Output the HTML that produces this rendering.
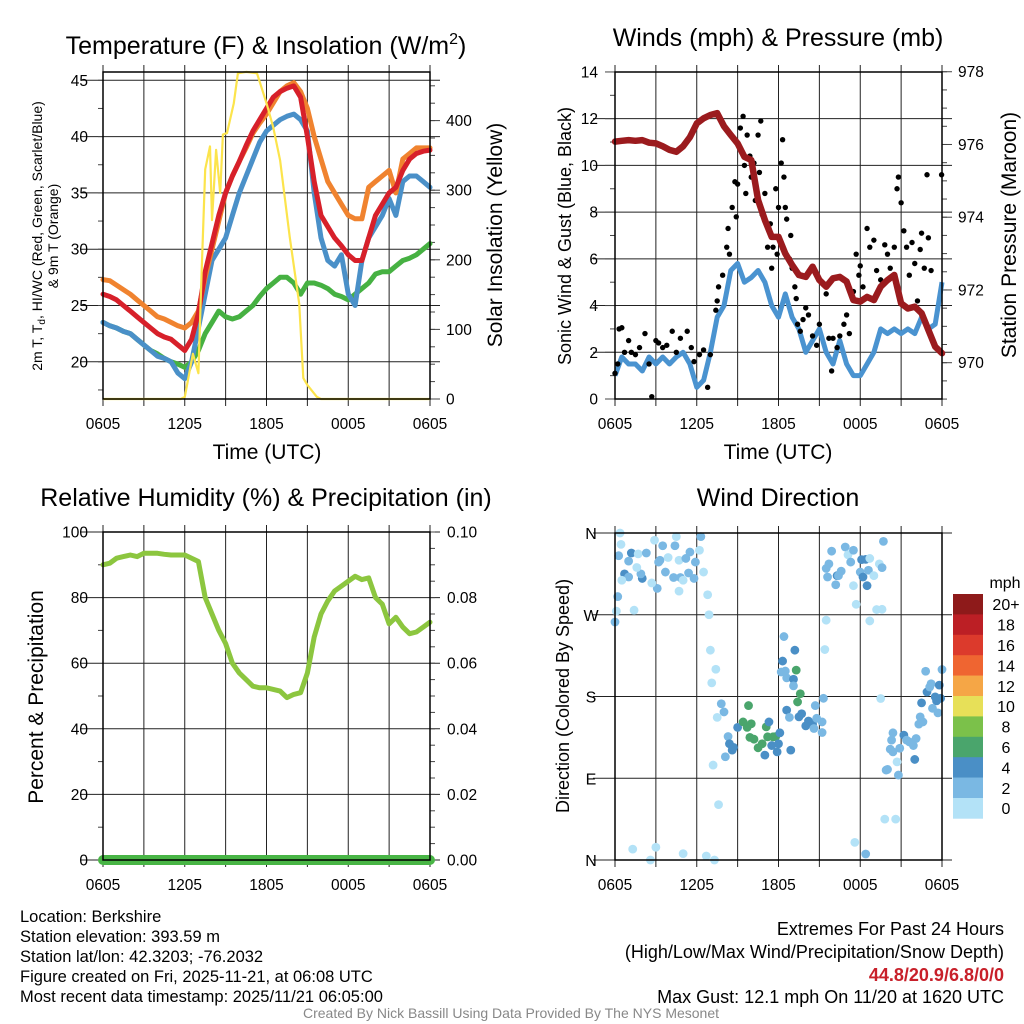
<!DOCTYPE html>
<html><head><meta charset="utf-8"><style>
html,body{margin:0;padding:0;background:#fff;}
svg{display:block;font-family:"Liberation Sans",sans-serif;}
</style></head><body>
<svg id="chart" width="1024" height="1024" viewBox="0 0 1024 1024" xmlns="http://www.w3.org/2000/svg">
<rect width="1024" height="1024" fill="#fff"/>
<g id="layer"></g>
<text x="266" y="54" font-size="25" text-anchor="middle">Temperature (F) &amp; Insolation (W/m<tspan font-size="16" dy="-10">2</tspan><tspan dy="10">)</tspan></text>
<text x="778" y="46" font-size="25" text-anchor="middle">Winds (mph) &amp; Pressure (mb)</text>
<text x="266" y="506" font-size="25" text-anchor="middle">Relative Humidity (%) &amp; Precipitation (in)</text>
<text x="778" y="506" font-size="25" text-anchor="middle">Wind Direction</text>
<text x="267" y="459" font-size="21" text-anchor="middle">Time (UTC)</text>
<text x="778" y="459" font-size="21" text-anchor="middle">Time (UTC)</text>
<text transform="translate(42,236) rotate(-90)" font-size="14" text-anchor="middle">2m T, T<tspan font-size="10" dy="3">d</tspan><tspan dy="-3">, HI/WC (Red, Green, Scarlet/Blue)</tspan></text>
<text transform="translate(58,236) rotate(-90)" font-size="14" text-anchor="middle">&amp; 9m T (Orange)</text>
<text transform="translate(502,235) rotate(-90)" font-size="21" text-anchor="middle">Solar Insolation (Yellow)</text>
<text transform="translate(571,236) rotate(-90)" font-size="18" text-anchor="middle">Sonic Wind &amp; Gust (Blue, Black)</text>
<text transform="translate(1016,235) rotate(-90)" font-size="21" text-anchor="middle">Station Pressure (Maroon)</text>
<text transform="translate(43,697) rotate(-90)" font-size="21" text-anchor="middle">Percent &amp; Precipitation</text>
<text transform="translate(569,696) rotate(-90)" font-size="18" text-anchor="middle">Direction (Colored By Speed)</text>
<g font-size="16.5">
<text x="20" y="922">Location: Berkshire</text>
<text x="20" y="942">Station elevation: 393.59 m</text>
<text x="20" y="962">Station lat/lon: 42.3203; -76.2032</text>
<text x="20" y="982">Figure created on Fri, 2025-11-21, at 06:08 UTC</text>
<text x="20" y="1002">Most recent data timestamp: 2025/11/21 06:05:00</text>
</g>
<g font-size="18" text-anchor="end">
<text x="1004" y="935">Extremes For Past 24 Hours</text>
<text x="1004" y="958">(High/Low/Max Wind/Precipitation/Snow Depth)</text>
<text x="1004" y="981" fill="#c8202a" font-weight="bold">44.8/20.9/6.8/0/0</text>
<text x="1004" y="1003">Max Gust: 12.1 mph On 11/20 at 1620 UTC</text>
</g>
<text x="511" y="1018" font-size="14" fill="#888" text-anchor="middle">Created By Nick Bassill Using Data Provided By The NYS Mesonet</text>
</svg>
<script>
// ---- data ----
const hours = [0,0.5,1,1.5,2,2.5,3,3.5,4,4.5,5,5.5,6,6.5,7,7.5,8,8.5,9,9.5,10,10.5,11,11.5,12,12.5,13,13.5,14,14.5,15,15.5,16,16.5,17,17.5,18,18.5,19,19.5,20,20.5,21,21.5,22,22.5,23,23.5,24];
const xTickLabels = ["0605","1205","1805","0005","0605"];
const tempRed = [26,25.8,25.5,25,24.5,24,23.5,23,22.5,22.2,22,21.5,21,22,24.3,28,30.5,33,35,36.5,37.8,39.2,40.5,41.5,42.5,43.5,44,44.3,44.5,43.5,40,36,33,32,31,30.3,29.5,29,29,31,33,34,35,35.5,37,38,38.5,38.7,38.8];
const tempOrange = [27.3,27.2,26.8,26.4,26,25.5,25,24.5,24,23.8,23.5,23.2,23,23.5,24.5,27.5,30,32.5,35,36.5,37.8,39,40.3,41.2,42,43,44,44.5,44.8,44,42.5,40,38,36,35,34,33,32.7,32.7,35.5,36,36.5,37,35,38,38.5,39,39,39];
const tempBlue = [23.5,23.2,23,22.7,22.5,22,21.5,21,20.5,20.3,20,19,18.5,20,23,26,29,30,31,33,35,36.5,38,39.5,40.5,41,41.5,41.8,42,41.5,40.5,35,31,29,28.5,29.5,26,25,29,31,32,33,34.5,33,36,36.5,36.5,36,35.5];
const dewGreen = [23.5,23.2,23,22.7,22.5,22,21.5,21,20.7,20.3,20,19.8,19.5,20,21,22.5,23.5,24.5,24,23.8,24,24.5,25,25.8,26.5,27,27.5,27.5,27,26,27,27,26.8,26.5,26,25.8,25.5,26,26.5,27,27.8,28,28,28.5,29,29.2,29.5,30,30.5];
const solarHours = [0,5.7,6,6.6,7,7.2,7.5,7.85,8,8.3,8.6,8.8,9.1,9.6,9.9,10.5,11.3,12,12.5,13,13.7,14.4,14.7,15,15.7,16,24];
const solarValues = [0,0,3,65,37,160,330,363,257,358,296,380,382,425,468,470,468,425,390,343,233,137,30,20,3,0,0];
const windSpeed = [1,1.8,1.5,1.5,1.2,1.8,1.5,1.8,1.5,1.8,2,1.5,0.5,0.8,2,3.5,4,5.5,5.8,5,5.2,5.5,5,4,3.5,4.5,3.5,3,2,2.5,3,2,1.5,2.5,1.5,1,1,1.5,2,3,2.8,3,2.8,3,2.8,3.5,3,3.2,5];
const pressure = [976.08,976.1,976.12,976.1,976.12,976.05,976.03,975.95,975.85,975.8,975.95,976.2,976.58,976.72,976.81,976.86,976.5,976.26,976.03,975.66,975.57,974.47,973.92,973.46,973.46,973.0,972.69,972.41,972.36,972.64,972.27,972.09,972.32,972.36,972.23,971.72,971.68,971.81,971.72,972.09,972.27,972.41,971.63,971.49,971.54,971.36,970.9,970.44,970.26];
const gustHours = [0,0.2,0.3,0.5,0.7,1,1.2,1.5,1.8,2.2,2.5,2.7,3,3.2,3.5,3.8,4.2,4.5,4.8,5.3,5.6,5.8,6.2,6.5,6.8,7,7.4,7.5,7.6,7.9,8.2,8.3,8.4,8.6,8.8,8.9,9,9.2,9.4,9.5,9.6,9.7,9.9,10,10.2,10.3,10.5,10.6,10.7,10.8,11,11.2,11.3,11.4,11.5,11.6,11.8,11.9,12,12.2,12.3,12.4,12.5,12.6,12.8,12.9,13,13.2,13.3,13.4,13.6,13.8,14,14.2,14.5,14.8,15,15.3,15.5,15.7,15.9,16,16.3,16.5,16.8,17,17.2,17.5,17.7,17.9,18,18.2,18.5,18.7,19,19.2,19.5,19.8,20,20.2,20.5,20.7,20.8,21,21.2,21.4,21.6,21.8,22,22.2,22.4,22.5,22.7,22.9,23,23.2,23.97];
const gustValues = [1.1,1.5,3,3.05,2,2.5,2,1.9,2.2,2.8,1.5,0.1,2.5,2.4,2.2,2.3,2.9,2,2.6,2.9,2.2,1.6,1.9,2.1,0.5,1.9,3.8,4.2,4.8,5.3,6.5,7.3,6.2,8.2,9.3,7.8,9.2,11.6,12.1,10,8.8,11.3,10.4,9.5,10.1,8.5,11.3,9.7,11.9,7.9,8.8,6.5,7.3,7.5,5.6,6.5,9.0,6.2,8.2,10.1,11.1,9.5,8.2,7.7,6,7,5.6,4.8,4.3,3.2,2.9,3.4,3.9,3.6,2.7,2.3,3.2,4.9,4.5,2.6,1.2,2.6,2.2,2.7,3.2,3.6,2.8,4.6,6.2,5.3,5.7,4.8,7.3,6.5,6.8,5.5,5.1,6.6,6.2,5.6,6.5,9.0,9.5,8.4,7.2,6.5,5.3,6.7,5.8,4.2,6.4,7.1,5.6,9.6,6.9,5.5,9.6];
const rh = [90,90.5,92,92.5,93,92.5,93.5,93.5,93.5,93.2,93,93,93,92,91,80,75,70,66,60,57,55,53,52.5,52.5,52,51.5,49.5,50.5,51,57,68,75,79,82,83.5,85,86.5,85.5,86,80,78,72,74,71,69,69.5,71,72.5];
const precip = [0,0,0,0,0,0,0,0,0,0,0,0,0,0,0,0,0,0,0,0,0,0,0,0,0,0,0,0,0,0,0,0,0,0,0,0,0,0,0,0,0,0,0,0,0,0,0,0,0];
const dirHours = [0.37,0.44,0.27,1.2,1.0,0.7,1.0,2.0,1.9,1.7,2.3,2.9,3.5,4.4,4.5,3.9,3.3,3.2,3.7,4.3,4.8,4.7,5.2,5.5,5.9,6.2,6.3,6.5,5.8,5.4,5.0,4.7,3.1,2.7,1.6,0.5,0.2,0.1,1.4,0.0,6.8,6.9,
 7.0,7.4,7.1,7.8,8.0,7.5,8.3,8.1,7.2,8.4,8.6,8.7,9.0,9.4,9.8,9.7,10.0,9.9,10.2,10.5,10.8,11.1,11.3,11.2,11.6,11.8,11.0,11.5,11.9,12.1,12.0,12.9,12.4,12.3,13.2,12.2,12.5,12.6,13.1,13.1,13.3,13.6,13.4,12.6,12.8,13.5,13.7,14.0,14.2,14.5,14.8,14.7,15.2,14.6,15.2,15.3,15.5,15.4,
 15.9,15.7,15.6,15.5,16.3,16.2,16.6,16.9,17.1,17.5,17.3,17.5,17.7,18.0,18.1,18.4,18.2,18.5,18.7,18.6,19.0,19.4,19.6,19.7,19.2,19.6,18.7,16.4,
 1.3,2.6,3.0,5.0,6.7,7.3,7.6,17.6,18.4,19.8,20.6,
 19.5,19.9,20.0,20.8,20.7,20.2,20.4,20.3,20.4,20.9,21.2,21.4,21.6,21.9,22.0,22.1,22.3,22.4,22.6,22.5,22.9,22.8,23.1,23.2,23.5,23.6,23.8,24.0,23.7,23.3,23.9];
const dirDegrees = [360,347.5,335,338,329,315,311.6,310,315,337,338,352,346,346,356,333,330,328,317,311,311,330,332,339,328,341,356,317,310,316,308,296,299,305,322,308,290,274,275,262,292,270,
 231,210,195,172,163,157,136,113.7,104.5,128,121,124,146,152,170,146,150,135,133,123.5,128,146.6,152,135.6,135.6,136,115.5,126,119,140,128,121,246,219,231,207,208,200.5,199,191.7,209,183,174,165,157,157.6,161,147.7,153,149.6,156,170,152,144.8,140.4,178,264,231.7,
 340,326,311.6,321,313,303,318,344.6,336,341,328,302,281.5,317,330.7,331,311.6,302,332,319,313,326,321.9,350.8,275.7,276,263.2,313,
 12,0,14,7,4.4,0,61,19.4,6.6,45,45,
 177.8,99,99.7,93.5,108,122,140,132,119,123,137.5,132,130,126,110.7,133.8,149.6,157.6,152,173,185,207.8,190.5,194,179.6,175.2,192.5,209.7,162,167,178];
const dirSpeeds = [1,1,3,5,3,5,3,5,3,1,3,1,3,3,1,1,3,3,3,3,3,1,3,3,3,1,3,1,3,3,1,1,3,1,1,1,3,1,1,3,1,1,
 1,1,1,3,3,1,3,3,1,5,5,5,5,7,7,7,7,7,7,7,7,7,5,7,7,7,5,5,5,5,5,5,3,5,5,3,3,3,5,3,7,7,7,5,3,5,5,5,5,5,3,3,3,3,3,3,1,1,
 3,3,3,3,5,3,3,3,1,3,3,1,1,3,5,5,5,5,1,3,1,1,3,3,1,1,1,3,
 1,1,1,1,1,1,1,1,3,1,1,
 1,3,3,3,1,3,3,3,3,3,5,3,3,3,5,3,3,3,3,5,5,3,3,3,5,5,5,3,3,3,5];
const speedBins = ["0","2","4","6","8","10","12","14","16","18","20+"];
const speedColors = ["#b3e2f7","#7ab8e3","#4a8fc6","#4aa56c","#7bc14a","#e7e058","#f5a646","#ef6531","#dc3a2c","#bc1f25","#8e1a1a"];

// ---- helpers ----
const NS = "http://www.w3.org/2000/svg";
const layer = document.getElementById("layer");
function mk(tag, attrs, parent) {
  const e = document.createElementNS(NS, tag);
  for (const k in attrs) e.setAttribute(k, attrs[k]);
  (parent || layer).appendChild(e);
  return e;
}
function txt(x, y, s, size, anchor, parent) {
  const t = mk("text", {x: x, y: y, "font-size": size, "text-anchor": anchor}, parent);
  t.textContent = s;
  return t;
}
function pathD(xs, ys, sx, sy) {
  let d = "";
  for (let i = 0; i < Math.min(xs.length, ys.length); i++) d += (i ? "L" : "M") + sx(xs[i]).toFixed(1) + " " + sy(ys[i]).toFixed(1);
  return d;
}
const TF = 15.5;

function axesFrame(P, name) {
  const g = mk("g", {});
  
  
  for (let h = 0; h <= 24; h += 3) {
    const x = P.sx(h);
    const l = mk("line", {x1: x, x2: x, y1: P.y0 - 7, y2: P.y1 + 7, stroke: "#222", "stroke-width": 1}, g);
    
    
  }
  xTickLabels.forEach(function (s, i) {
    const t = txt(P.sx(i * 6), P.y1 + 30, s, TF, "middle", g);
    
    
  });
  return g;
}
function hgrid(P, g, y, name) {
  const l = mk("line", {x1: P.x0 - 22, x2: P.x1 + 10, y1: y, y2: y, stroke: "#222", "stroke-width": 1}, g);
  
  
}
function tick(g, x1, x2, y) {
  mk("line", {x1: x1, x2: x2, y1: y, y2: y, stroke: "#444", "stroke-width": 1}, g);
}
function border(P, name) {
  const r = mk("rect", {x: P.x0, y: P.y0, width: P.x1 - P.x0, height: P.y1 - P.y0, fill: "none", stroke: "#000", "stroke-width": 1.5});
  
  
}

// ---- panel 1: temperature ----
const P1 = {x0: 103, x1: 430, y0: 72, y1: 399};
P1.sx = h => P1.x0 + h * (P1.x1 - P1.x0) / 24;
P1.sy = v => 80.3 + (45 - v) * 11.26;
P1.sr = v => 399 - v * 0.696;
{
  const g = axesFrame(P1, "temp");
  for (let v = 20; v <= 45; v += 5) {
    hgrid(P1, g, P1.sy(v), "temp-y-grid");
    const t = txt(88, P1.sy(v) + 5.5, String(v), TF, "end", g);
    
    
  }
  for (let v = 17.5; v <= 45; v += 2.5) tick(g, P1.x0 - 5, P1.x0, P1.sy(v));
  for (let v = 0; v <= 450; v += 25) tick(g, P1.x1, P1.x1 + 5, P1.sr(v));
  for (let v = 0; v <= 400; v += 100) {
    tick(g, P1.x1, P1.x1 + 10, P1.sr(v));
    const t = txt(446, P1.sr(v) + 5.5, String(v), TF, "start", g);
    
    
  }
  const series = [[dewGreen, "#46b142", "dewpoint-line"], [tempBlue, "#4a90c8", "windchill-line"], [tempOrange, "#f0832f", "temp-9m-line"], [tempRed, "#d7202a", "temp-2m-line"]];
  series.forEach(function (s) {
    const p = mk("path", {d: pathD(hours, s[0], P1.sx, P1.sy), fill: "none", stroke: s[1], "stroke-width": 5, "stroke-linejoin": "round", "stroke-linecap": "round"});
    
    
  });
  const y = mk("path", {d: pathD(solarHours, solarValues, P1.sx, P1.sr), fill: "none", stroke: "#fce44c", "stroke-width": 2.2, "stroke-linejoin": "round"});
  
  
  border(P1, "temp");
}

// ---- panel 2: winds & pressure ----
const P2 = {x0: 615, x1: 942, y0: 72, y1: 399};
P2.sx = h => P2.x0 + h * (P2.x1 - P2.x0) / 24;
P2.sy = v => 399 - v * 23.36;
P2.sr = p => 362.7 - (p - 970) * 36.37;
{
  const g = axesFrame(P2, "wind");
  for (let v = 0; v <= 14; v += 2) {
    if (v > 0 && v < 14) hgrid(P2, g, P2.sy(v), "wind-y-grid");
    tick(g, P2.x0 - 10, P2.x0, P2.sy(v));
    const t = txt(598, P2.sy(v) + 5.5, String(v), TF, "end", g);
    
    
  }
  for (let v = 1; v <= 14; v += 2) tick(g, P2.x0 - 5, P2.x0, P2.sy(v));
  for (let p = 969; p <= 978; p += 0.5) tick(g, P2.x1, P2.x1 + 5, P2.sr(p));
  for (let p = 970; p <= 978; p += 2) {
    tick(g, P2.x1, P2.x1 + 10, P2.sr(p));
    const t = txt(958, P2.sr(p) + 5.5, String(p), TF, "start", g);
    
    
  }
  const w = mk("path", {d: pathD(hours, windSpeed, P2.sx, P2.sy), fill: "none", stroke: "#4a93d0", "stroke-width": 5, "stroke-linejoin": "round"});
  
  
  const gg = mk("g", {});
  
  
  for (let i = 0; i < gustHours.length; i++) {
    const c = mk("circle", {cx: P2.sx(gustHours[i]), cy: P2.sy(gustValues[i]), r: 2.7, fill: "#000"}, gg);
    
    
  }
  const pr = mk("path", {d: pathD(hours, pressure, P2.sx, P2.sr), fill: "none", stroke: "#9b1b1e", "stroke-width": 6.5, "stroke-linejoin": "round", "stroke-linecap": "round"});
  
  
  border(P2, "wind");
}

// ---- panel 3: RH & precip ----
const P3 = {x0: 103, x1: 430, y0: 532, y1: 860};
P3.sx = h => P3.x0 + h * (P3.x1 - P3.x0) / 24;
P3.sy = v => 860 - v * 3.28;
P3.sr = v => 860 - v * 3280;
{
  const g = axesFrame(P3, "rh");
  for (let v = 0; v <= 100; v += 20) {
    hgrid(P3, g, P3.sy(v), "rh-y-grid");
    const t = txt(88, P3.sy(v) + 5.5, String(v), TF, "end", g);
    
    
  }
  for (let v = 10; v <= 100; v += 20) tick(g, P3.x0 - 5, P3.x0, P3.sy(v));
  for (let v = 0; v <= 100; v += 5) tick(g, P3.x1, P3.x1 + 5, P3.sy(v));
  for (let v = 0; v <= 0.1001; v += 0.02) {
    const t = txt(447, P3.sr(v) + 5.5, v.toFixed(2), TF, "start", g);
    
    
  }
  const r = mk("path", {d: pathD(hours, rh, P3.sx, P3.sy), fill: "none", stroke: "#8cc63f", "stroke-width": 5, "stroke-linejoin": "round", "stroke-linecap": "round"});
  
  
  const pc = mk("path", {d: pathD(hours, precip, P3.sx, P3.sr), fill: "none", stroke: "#48b545", "stroke-width": 10, "stroke-linecap": "round"});
  
  
  border(P3, "rh");
}

// ---- panel 4: wind direction ----
const P4 = {x0: 615, x1: 942, y0: 533, y1: 860};
P4.sx = h => P4.x0 + h * (P4.x1 - P4.x0) / 24;
P4.sy = d => 860 - d * (860 - 533) / 360;
{
  const g = axesFrame(P4, "direction");
  ["N", "E", "S", "W", "N"].forEach(function (s, i) {
    const y = P4.sy(i * 90);
    hgrid(P4, g, y, "direction-y-grid");
    const t = txt(591, y + 6, s, 16, "middle", g);
    
    
  });
  const dg = mk("g", {});
  
  
  for (let i = 0; i < dirHours.length; i++) {
    const bin = Math.min(10, Math.floor(dirSpeeds[i] / 2));
    const c = mk("circle", {cx: P4.sx(dirHours[i]), cy: P4.sy(dirDegrees[i]), r: 4.4, fill: speedColors[bin]}, dg);
    
    
  }
  border(P4, "direction");
  const lg = mk("g", {});
  
  
  const lt = txt(1005, 588, "mph", 16, "middle", lg);
  
  
  const boxH = 20.4;
  for (let i = 0; i < speedBins.length; i++) {
    const k = speedBins.length - 1 - i;
    const y = 594 + i * boxH;
    const b = mk("rect", {x: 953, y: y, width: 30, height: boxH + 0.3, fill: speedColors[k]}, lg);
    
    
    const t = txt(1006, y + boxH / 2 + 6, speedBins[k], 16, "middle", lg);
    
    
  }
}
</script>
</body></html>
